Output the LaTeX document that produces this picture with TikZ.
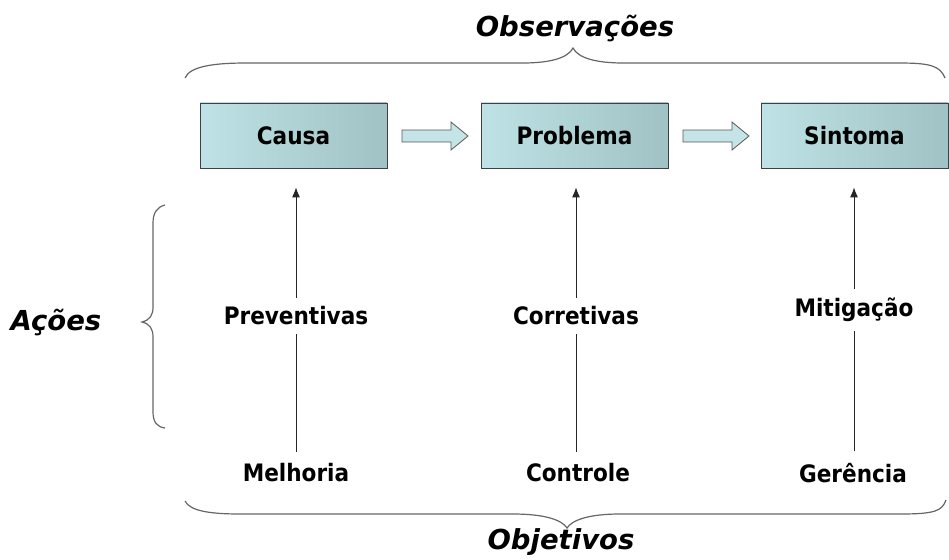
\documentclass[tikz,border=0pt]{standalone}
\usepackage{fontspec}
\setmainfont{DejaVu Sans}
\newfontfamily\condf{DejaVu Sans Condensed}
\usetikzlibrary{arrows.meta}
\definecolor{boxl}{HTML}{BEE2E5}
\definecolor{boxr}{HTML}{A0C2C4}
\definecolor{arrf}{HTML}{C4E4E7}
\begin{document}
\begin{tikzpicture}[x=1pt,y=-1pt,
  box/.style={draw=black!75, line width=0.8pt, left color=boxl, right color=boxr, minimum width=187pt, minimum height=65pt, inner sep=0pt, font=\condf\fontsize{24}{28}\selectfont\bfseries},
  lbl/.style={font=\condf\fontsize{24}{28}\selectfont\bfseries, inner xsep=2pt, inner ysep=9pt},
  bot/.style={font=\condf\fontsize{24}{28}\selectfont\bfseries, inner sep=0pt},
  title/.style={font=\fontsize{27.5}{32}\selectfont\bfseries\itshape},
  up/.style={line width=0.9pt, draw=black!85, -{Latex[length=10pt,width=8pt]}},
  seg/.style={line width=0.9pt, draw=black!85},
  brace/.style={draw=black!60, line width=1.2pt},
  blk/.style={draw=black!65, fill=arrf, line width=0.8pt}]
\useasboundingbox (0,0) rectangle (949,559);
% boxes
\node[box] (causa) at (293.5,135.5) {Causa};
\node[box] (probl) at (574.5,135.5) {Problema};
\node[box] (sint) at (854.5,135.5) {Sintoma};
% block arrows
\draw[blk] (402,130) -- (451,130) -- (451,122) -- (468,136) -- (451,150) -- (451,142) -- (402,142) -- cycle;
\draw[blk] (683,130) -- (732,130) -- (732,122) -- (749,136) -- (732,150) -- (732,142) -- (683,142) -- cycle;
% labels
\node[bot] (melh) at (296,473) {Melhoria};
\node[bot] (ctrl) at (578,473) {Controle};
\node[bot] (ger) at (853,473) {Gerência};
\node[lbl] (prev) at (296,316) {Preventivas};
\node[lbl] (corr) at (576,316) {Corretivas};
\node[lbl] (mitg) at (854,310) {Mitigação};
% connectors
\draw[seg, shorten <=12pt] (melh) -- (prev);
\draw[up, shorten >=19pt] (prev) -- (prev |- causa.south);
\draw[seg, shorten <=12pt] (ctrl.north -| corr) -- (corr);
\draw[up, shorten >=19pt] (corr) -- (corr |- probl.south);
\draw[seg, shorten <=12pt] (ger.north -| mitg) -- (mitg);
\draw[up, shorten >=19pt] (mitg) -- (mitg |- sint.south);
% titles
\node[title] (obs) at (575,28) {Observações};
\node[title] (obj) at (561,542) {Objetivos};
\node[title] (acoes) at (56,322) {Ações};
% braces
\draw[brace] (185,78) .. controls (190,66) and (215,63) .. (247,63) -- (523,63) .. controls (550,63) and (568,58) .. (573,48) .. controls (578,58) and (596,63) .. (623,63) -- (899,63) .. controls (931,63) and (940,66) .. (945,78);
\draw[brace] (185,501) .. controls (190,511) and (210,514) .. (240,514) -- (513,514) .. controls (545,514) and (562,520) .. (567,528) .. controls (572,520) and (589,514) .. (620,514) -- (900,514) .. controls (935,514) and (942,511) .. (946,500);
\draw[brace] (165,205) .. controls (157,207) and (153,213) .. (153,223) -- (153,307) .. controls (153,315) and (150,320) .. (142,322) .. controls (150,324) and (153,329) .. (153,337) -- (153,412) .. controls (153,422) and (157,427) .. (165,428);
\end{tikzpicture}
\end{document}
